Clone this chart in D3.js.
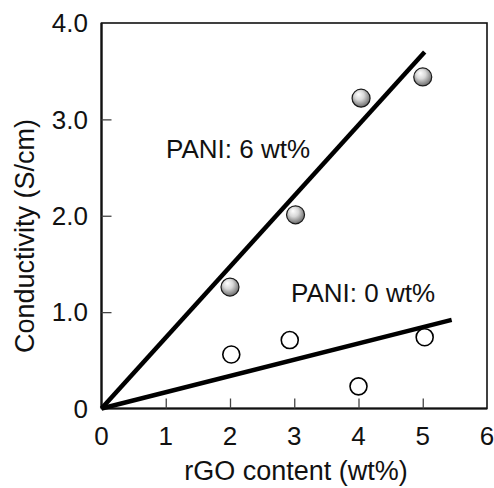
<!DOCTYPE html>
<html>
<head>
<meta charset="utf-8">
<script src="https://cdn.jsdelivr.net/npm/d3@7"></script>
<style>
  body { margin: 0; background: #fff; }
  text { font-family: "Liberation Sans", Arial, Helvetica, sans-serif; fill: #111; }
</style>
</head>
<body>
<svg width="494" height="488"></svg>
<script>
// PANI 6 wt% (filled spheres)
var pani6X = [2.0, 3.02, 4.04, 5.0];
var pani6Y = [1.26, 2.01, 3.22, 3.44];
// PANI 0 wt% (open circles)
var pani0X = [2.02, 2.93, 4.0, 5.03];
var pani0Y = [0.56, 0.71, 0.23, 0.74];
// fitted lines (start, end)
var fit6 = [[0, 0], [5.03, 3.70]];
var fit0 = [[0, 0], [5.45, 0.92]];

var xTicks = [0, 1, 2, 3, 4, 5, 6];
var yTicks = [0, 1, 2, 3, 4];
var yTickLabels = ["0", "1.0", "2.0", "3.0", "4.0"];

var svg = d3.select("svg"),
    pLeft = 101.5, pRight = 487, pTop = 23, pBottom = 408.5;

var x = d3.scaleLinear().domain([0, 6]).range([pLeft, pRight]);
var y = d3.scaleLinear().domain([0, 4]).range([pBottom, pTop]);

var defs = svg.append("defs");
var grad = defs.append("radialGradient")
    .attr("id", "ball")
    .attr("cx", "45%").attr("cy", "40%").attr("r", "60%")
    .attr("fx", "35%").attr("fy", "28%");
grad.append("stop").attr("offset", "0%").attr("stop-color", "#ffffff");
grad.append("stop").attr("offset", "45%").attr("stop-color", "#d8d8d8");
grad.append("stop").attr("offset", "100%").attr("stop-color", "#6a6a6a");

// frame
svg.append("rect")
    .attr("x", pLeft).attr("y", pTop)
    .attr("width", pRight - pLeft).attr("height", pBottom - pTop)
    .attr("fill", "none").attr("stroke", "#111").attr("stroke-width", 1.6);
svg.append("line")
    .attr("x1", pLeft).attr("x2", pLeft).attr("y1", pTop).attr("y2", pBottom)
    .attr("stroke", "#111").attr("stroke-width", 2.2);
svg.append("line")
    .attr("x1", pLeft).attr("x2", pRight).attr("y1", pBottom).attr("y2", pBottom)
    .attr("stroke", "#111").attr("stroke-width", 2.2);

// ticks pointing inward
var xAxis = d3.axisTop(x).tickValues(xTicks.slice(1, -1)).tickSize(10).tickFormat("");
var gx = svg.append("g").attr("transform", "translate(0," + pBottom + ")").call(xAxis);
gx.select(".domain").remove();
gx.selectAll("line").attr("stroke", "#444").attr("stroke-width", 1.3);

var yAxis = d3.axisRight(y).tickValues(yTicks.slice(1, -1)).tickSize(10).tickFormat("");
var gy = svg.append("g").attr("transform", "translate(" + pLeft + ",0)").call(yAxis);
gy.select(".domain").remove();
gy.selectAll("line").attr("stroke", "#444").attr("stroke-width", 1.3);

// tick labels
svg.selectAll(".xl")
  .data(xTicks)
  .enter().append("text")
    .attr("x", function(d) { return x(d); })
    .attr("y", 445)
    .attr("text-anchor", "middle")
    .attr("font-size", 26)
    .text(function(d) { return d; });

svg.selectAll(".yl")
  .data(yTicks)
  .enter().append("text")
    .attr("x", 88)
    .attr("y", function(d) { return y(d); })
    .attr("dy", "0.36em")
    .attr("text-anchor", "end")
    .attr("font-size", 26)
    .text(function(d, i) { return yTickLabels[i]; });

// axis titles
svg.append("text")
    .attr("x", 296)
    .attr("y", 480)
    .attr("text-anchor", "middle")
    .attr("font-size", 27)
    .text("rGO content (wt%)");

svg.append("text")
    .attr("transform", "translate(34,236) rotate(-90)")
    .attr("text-anchor", "middle")
    .attr("font-size", 27)
    .text("Conductivity (S/cm)");

// fit lines
var line = d3.line()
    .x(function(d) { return x(d[0]); })
    .y(function(d) { return y(d[1]); });

[fit6, fit0].forEach(function(f) {
  svg.append("path")
      .datum(f)
      .attr("d", line)
      .attr("fill", "none")
      .attr("stroke", "#000")
      .attr("stroke-width", 4.5);
});

// markers
svg.selectAll(".open")
  .data(pani0X)
  .enter().append("circle")
    .attr("cx", function(d) { return x(d); })
    .attr("cy", function(d, i) { return y(pani0Y[i]); })
    .attr("r", 8.5)
    .attr("fill", "#fff")
    .attr("stroke", "#000")
    .attr("stroke-width", 1.6);

svg.selectAll(".ball")
  .data(pani6X)
  .enter().append("circle")
    .attr("cx", function(d) { return x(d); })
    .attr("cy", function(d, i) { return y(pani6Y[i]); })
    .attr("r", 9)
    .attr("fill", "url(#ball)")
    .attr("stroke", "#1a1a1a")
    .attr("stroke-width", 1.2);

// series labels
svg.append("text")
    .attr("x", 166)
    .attr("y", 158)
    .attr("font-size", 26)
    .text("PANI: 6 wt%");

svg.append("text")
    .attr("x", 291)
    .attr("y", 302)
    .attr("font-size", 26)
    .text("PANI: 0 wt%");
</script>
</body>
</html>
